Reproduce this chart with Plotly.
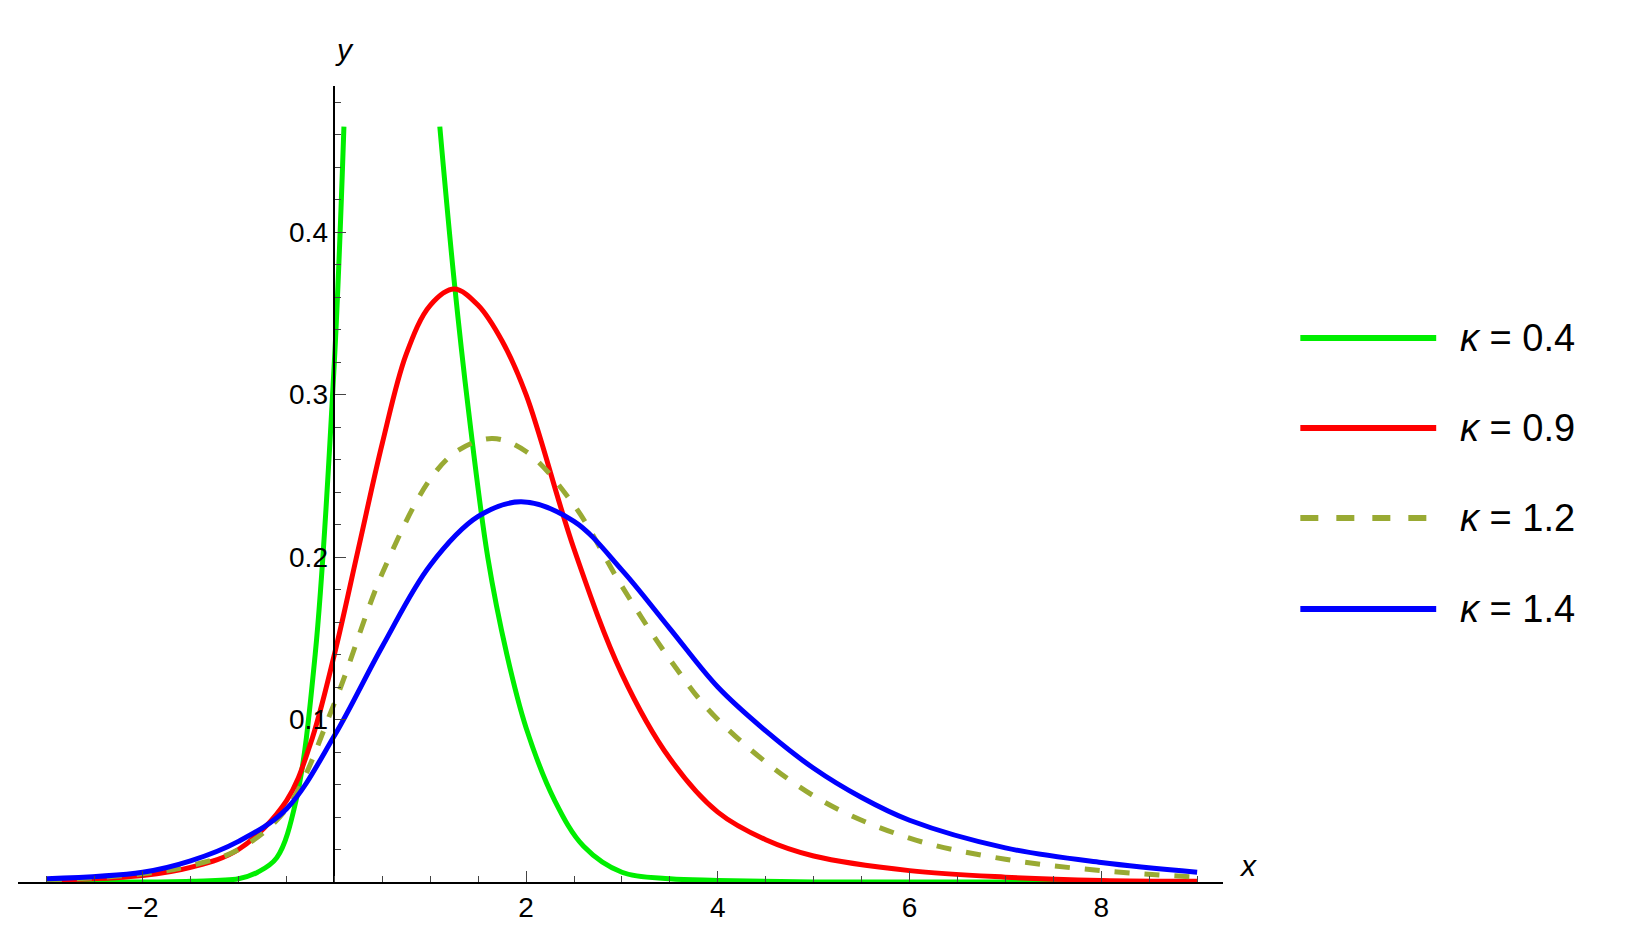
import plotly.graph_objects as go

# values (kappa curves)
x_g = [-3, -2, -1.5, -1, -0.8, -0.6, -0.4, -0.2, 0, 0.1, None, 1.1, 1.25, 1.4, 1.6, 1.8, 2.0, 2.3, 2.6, 3.0, 3.5, 4, 5, 6, 7, 8, 9]
y_g = [0, 0, 0.0005, 0.002, 0.006, 0.015, 0.05, 0.14, 0.32, 0.465, None, 0.465, 0.37, 0.29, 0.2, 0.14, 0.095, 0.05, 0.022, 0.006, 0.002, 0.001, 0, 0, 0, 0, 0]

x_r = [-3, -2, -1.5, -1, -0.5, -0.25, 0, 0.25, 0.5, 0.75, 1, 1.25, 1.5, 1.75, 2, 2.5, 3, 3.5, 4, 4.5, 5, 6, 7, 8, 9]
y_r = [0.001, 0.004, 0.009, 0.02, 0.05, 0.085, 0.14, 0.205, 0.27, 0.325, 0.355, 0.365, 0.355, 0.333, 0.3, 0.205, 0.128, 0.076, 0.043, 0.026, 0.016, 0.007, 0.003, 0.001, 0.0005]

x_d = [-3, -2, -1.5, -1, -0.5, 0, 0.5, 1, 1.3, 1.65, 2, 2.5, 3, 3.5, 4, 5, 6, 7, 8, 9]
y_d = [0.001, 0.005, 0.01, 0.02, 0.045, 0.11, 0.19, 0.248, 0.266, 0.273, 0.265, 0.232, 0.182, 0.137, 0.1, 0.053, 0.027, 0.014, 0.007, 0.003]

x_b = [-3, -2, -1.5, -1, -0.5, 0, 0.5, 1, 1.5, 1.95, 2.5, 3, 3.5, 4, 4.5, 5, 5.5, 6, 7, 8, 9]
y_b = [0.002, 0.006, 0.013, 0.025, 0.045, 0.09, 0.145, 0.195, 0.225, 0.234, 0.222, 0.192, 0.156, 0.12, 0.093, 0.07, 0.052, 0.038, 0.021, 0.012, 0.006]

kappas = ["0.4", "0.9", "1.2", "1.4"]
colors = ["#00ee00", "#ff0000", "#99aa33", "#0000ff"]
dashes = ["solid", "solid", "dash", "solid"]

fig = go.Figure()
for xs, ys, c, d in zip([x_g, x_r, x_d, x_b], [y_g, y_r, y_d, y_b], colors, dashes):
    fig.add_trace(go.Scatter(x=xs, y=ys, mode="lines", line=dict(color=c, width=5, dash=d, shape="spline", smoothing=1.0),
                             connectgaps=False, showlegend=False))

S = 1630 / 1560  # reference read at reduced scale
fnt = dict(family="Liberation Sans, Arial", size=28, color="black")
fig.update_layout(
    width=1630, height=936, plot_bgcolor="white", paper_bgcolor="white", showlegend=False,
    margin=dict(l=round(10 * S), r=1630 - round(1163 * S), t=round(75 * S), b=936 - round(836 * S)), font=fnt,
    xaxis=dict(range=[-3.3, 9.27], tickvals=[-2, 2, 4, 6, 8], showgrid=False, zeroline=False,
               showline=True, linecolor="black", linewidth=1.5, ticks="inside", ticklen=11,
               minor=dict(ticks="inside", dtick=0.5, ticklen=6, tick0=0)),
    yaxis=dict(range=[0, 0.49], tickvals=[0.1, 0.2, 0.3, 0.4], showgrid=False, zeroline=False,
               showline=True, linecolor="black", linewidth=1.5, ticks="inside", ticklen=11,
               anchor="free", position=3.3 / 12.57,
               minor=dict(ticks="inside", dtick=0.02, ticklen=6, tick0=0)),
)

def px(x):
    return (x - 10) / 1153

def py(y):
    return (836 - y) / 761

fig.add_annotation(x=px(1197), y=py(838), xref="paper", yref="paper", text="<i>x</i>", showarrow=False, font=dict(size=30))
fig.add_annotation(x=px(311), y=py(22), xref="paper", yref="paper", text="<i>y</i>", showarrow=False, font=dict(size=30))

for i, (k, c, d) in enumerate(zip(kappas, colors, dashes)):
    yy = [316, 402, 488, 575][i]
    fig.add_shape(type="line", xref="paper", yref="paper", x0=px(1237), x1=px(1367), y0=py(yy), y1=py(yy),
                  line=dict(color=c, width=6, dash=d))
    fig.add_annotation(x=px(1388), y=py(yy), xref="paper", yref="paper", xanchor="left", yanchor="middle",
                       showarrow=False, captureevents=False,
                       text="<i>κ</i> = " + k, font=dict(size=38))

fig.write_html("out.html")
